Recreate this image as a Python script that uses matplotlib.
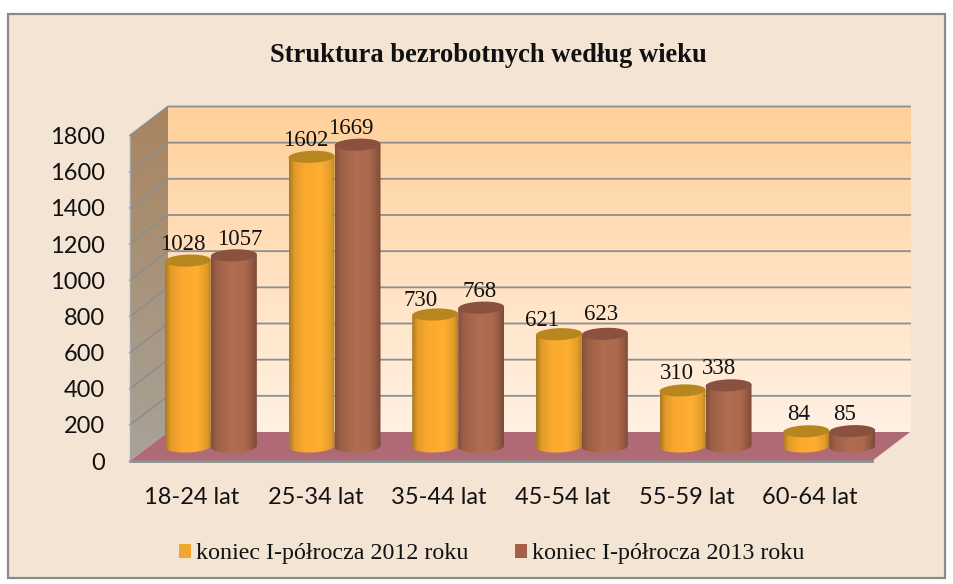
#!/usr/bin/env python3
"""Struktura bezrobotnych wedlug wieku - 3D style cylinder chart."""

import matplotlib
matplotlib.use("Agg")
import matplotlib.pyplot as plt
import numpy as np
from matplotlib.colors import LinearSegmentedColormap
from matplotlib.patches import Patch, Polygon, Rectangle

CATEGORIES = ["18-24 lat", "25-34 lat", "35-44 lat", "45-54 lat", "55-59 lat", "60-64 lat"]
VALUES_2012 = [1028, 1602, 730, 621, 310, 84]
VALUES_2013 = [1057, 1669, 768, 623, 338, 85]
SERIES_NAMES = ["koniec I-półrocza 2012 roku", "koniec I-półrocza 2013 roku"]
Y_TICKS = [0, 200, 400, 600, 800, 1000, 1200, 1400, 1600, 1800]
TITLE = "Struktura bezrobotnych według wieku"

# label nudges in pixels from the bar top, the original was placed by hand
OFFSETS_2012 = [(-5, 16), (-6, 16), (-15, 14), (-17, 14), (-6, 17), (-8, 17)]
OFFSETS_2013 = [(6, 16), (-7, 16), (-2, 16), (-4, 19), (-10, 17), (-8, 17)]

W, H = 954, 584
X0_PX, Y0_PX = 130.0, 461.0  # front corner of the chart floor
PX_PER_CAT = 123.67
PX_PER_VAL = 325.5 / 1800

DEPTH_X = 38 / PX_PER_CAT
DEPTH_Y = 29 / PX_PER_VAL
BAR_W = 46 / PX_PER_CAT
ELL_H = 6 / PX_PER_VAL
TILT = 0.035 * (PX_PER_CAT / PX_PER_VAL)  # rise of the ellipses, data y per data x

ORANGE = LinearSegmentedColormap.from_list(
    "orange", [(0, "#A87A22"), (0.12, "#E39B2A"), (0.35, "#FBA92E"), (0.7, "#FFAE30"), (0.92, "#E09C2A"), (1, "#B0832A")])
BROWN = LinearSegmentedColormap.from_list(
    "brown", [(0, "#84503A"), (0.12, "#9C5F47"), (0.45, "#B06D50"), (0.75, "#AD694D"), (0.92, "#8F5640"), (1, "#7A4A38")])
TOP_COLORS = ["#B8861F", "#8A5040"]
WALL = LinearSegmentedColormap.from_list("wall", ["#FFD09A", "#FFF1E4"])
SIDE = LinearSegmentedColormap.from_list("side", ["#A8845E", "#A9A399"])
GRID = "#8E8E8E"
FLOOR = "#B06A76"
PANEL = "#F4E4D4"


def cylinder(ax, xc, value, cmap, top_color):
    base = DEPTH_Y / 2
    t = np.linspace(0, np.pi, 60)
    bx = xc - BAR_W / 2 * np.cos(t)
    by = base - ELL_H * np.sin(t) + TILT * (bx - xc)
    tx = bx[::-1]
    ty = base + value + TILT * (tx - xc)
    body = Polygon(np.column_stack([np.r_[bx, tx], np.r_[by, ty]]), closed=True,
                   facecolor="none", edgecolor="none", transform=ax.transData)
    ax.add_patch(body)
    grad = np.linspace(0, 1, 128).reshape(1, -1)
    im = ax.imshow(grad, cmap=cmap, aspect="auto", zorder=4,
                   extent=(xc - BAR_W / 2, xc + BAR_W / 2, base - 2 * ELL_H, base + value + 2 * ELL_H))
    im.set_clip_path(body)
    th = np.linspace(0, 2 * np.pi, 100)
    ex = xc + BAR_W / 2 * np.cos(th)
    ey = base + value + ELL_H * np.sin(th) + TILT * (ex - xc)
    ax.add_patch(Polygon(np.column_stack([ex, ey]), closed=True, facecolor=top_color,
                         edgecolor="none", zorder=5))


def main():
    plt.rcParams["font.family"] = ["Liberation Serif", "DejaVu Serif"]
    fig = plt.figure(figsize=(W / 100, H / 100), dpi=100, facecolor="white")
    ax = fig.add_axes([0, 0, 1, 1])
    ax.set_xlim(-X0_PX / PX_PER_CAT, (W - X0_PX) / PX_PER_CAT)
    ax.set_ylim(-(H - Y0_PX) / PX_PER_VAL, Y0_PX / PX_PER_VAL)
    ax.axis("off")

    n = len(CATEGORIES)
    top = Y_TICKS[-1]

    # outer panel
    ax.add_patch(Rectangle((8 / W, 1 - 578 / H), 937 / W, 564 / H, transform=ax.transAxes,
                           facecolor=PANEL, edgecolor="#8A8A8A", linewidth=1.6, zorder=0))

    # back wall
    ax.imshow(np.linspace(0, 1, 256).reshape(-1, 1), cmap=WALL, aspect="auto", zorder=1,
              extent=(DEPTH_X, n + DEPTH_X, DEPTH_Y, top + DEPTH_Y))

    # left wall
    side_poly = Polygon([(0, 0), (DEPTH_X, DEPTH_Y), (DEPTH_X, top + DEPTH_Y), (0, top)],
                        closed=True, facecolor="none", edgecolor="none")
    ax.add_patch(side_poly)
    im = ax.imshow(np.linspace(0, 1, 256).reshape(-1, 1), cmap=SIDE, aspect="auto", zorder=1,
                   extent=(0, DEPTH_X, 0, top + DEPTH_Y))
    im.set_clip_path(side_poly)

    # floor
    ax.add_patch(Polygon([(0, 0), (n, 0), (n + DEPTH_X, DEPTH_Y), (DEPTH_X, DEPTH_Y)],
                         closed=True, facecolor=FLOOR, edgecolor="none", zorder=2))

    # grid on both walls
    for tick in Y_TICKS:
        if tick > 0:
            ax.plot([0, DEPTH_X, n + DEPTH_X], [tick, tick + DEPTH_Y, tick + DEPTH_Y],
                    color=GRID, linewidth=1.3, zorder=3, solid_joinstyle="miter")
        ax.annotate(str(tick), (-0.2, tick), xytext=(0, -2), textcoords="offset pixels",
                    family="Lato", fontsize=17, color="#111111", ha="right", va="center", zorder=6)
    ax.plot([0, n], [0, 0], color=GRID, linewidth=2, zorder=3)
    ax.plot([0, 0], [0, top], color="#A5A5A5", linewidth=1, zorder=3)

    # keep limits after imshow calls
    ax.set_xlim(-X0_PX / PX_PER_CAT, (W - X0_PX) / PX_PER_CAT)
    ax.set_ylim(-(H - Y0_PX) / PX_PER_VAL, Y0_PX / PX_PER_VAL)

    for i, cat in enumerate(CATEGORIES):
        center = i + 0.5 + DEPTH_X / 2
        x1 = center - BAR_W / 2
        x2 = center + BAR_W / 2
        cylinder(ax, x1, VALUES_2012[i], ORANGE, TOP_COLORS[0])
        cylinder(ax, x2, VALUES_2013[i], BROWN, TOP_COLORS[1])
        for x, val, off in ((x1, VALUES_2012[i], OFFSETS_2012[i]), (x2, VALUES_2013[i], OFFSETS_2013[i])):
            ax.annotate(str(val), (x, val + DEPTH_Y / 2), xytext=off, textcoords="offset pixels",
                        ha="center", va="center", fontsize=16.5, color="#111111", zorder=7)
        ax.text(i + 0.5, -36 / PX_PER_VAL, cat, family="Lato", fontsize=17, color="#111111",
                ha="center", va="center", zorder=6)

    ax.text(488 / W, 1 - 56 / H, TITLE, transform=ax.transAxes, ha="center", va="center",
            fontsize=19.1, fontweight="bold", color="#111111")

    handles = [Patch(facecolor="#F0A72F", edgecolor="none"), Patch(facecolor="#A4604A", edgecolor="none")]
    ax.legend(handles, SERIES_NAMES, loc="center", bbox_to_anchor=(492 / W, 1 - 554 / H), ncol=2,
              frameon=False, fontsize=17.3, handlelength=0.5, handleheight=0.5, handletextpad=0.21,
              columnspacing=1.95, borderpad=0, labelcolor="#111111")

    fig.savefig("out.png", dpi=100, facecolor="white")
    plt.close(fig)


if __name__ == "__main__":
    main()
